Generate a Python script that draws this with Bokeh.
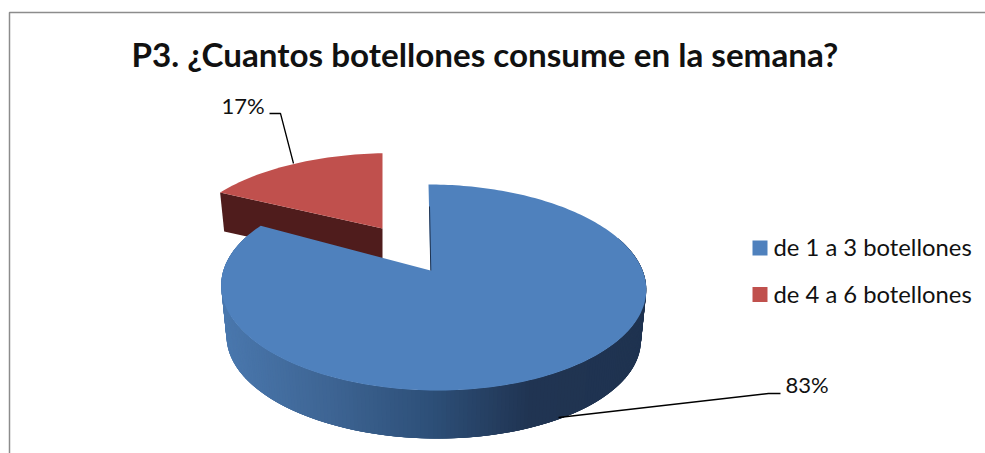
import math
from bokeh.plotting import figure
from bokeh.models import Range1d
from bokeh.embed import file_html
from bokeh.resources import INLINE
from bokeh.core.properties import value

# Survey results
categories = ["de 1 a 3 botellones", "de 4 a 6 botellones"]
shares = [83, 17]
labels = ["83%", "17%"]
title_text = "P3. ¿Cuantos botellones consume en la semana?"

colors = ["#4f81bd", "#c0504d"]
wall_red = "#4f1c1c"
FONT = "Lato"

# Perspective of the pie disc, in screen pixels
X0, Y0 = 432.5, 270.0
APEX_X = 430.0
RX, RY, K = 209.6, 100.2, 0.165
SKEW = -4.5
DEPTH_SCALE = 0.975
EXPLODE_V = 0.45
RED_APEX_X = 382.0
RED_STRETCH, RED_TILT = 1.02, 0.018


def project(u, v):
    d = 1 + K * v
    return X0 + RX * u / d + SKEW * v, Y0 - RY * v / d


def rim(deg):
    t = math.radians(deg)
    return project(math.sin(t), math.cos(t))


def red_point(u, v):
    # Exploded slice: same disc pushed backwards, sharing the vertical through its apex
    d = 1 + K * (v + EXPLODE_V)
    dx = RX * u / d * RED_STRETCH
    return RED_APEX_X + dx, Y0 - RY * (v + EXPLODE_V) / d - RED_TILT * dx


def lower(pt, apex, depth):
    return (apex[0] + (pt[0] - apex[0]) * DEPTH_SCALE,
            apex[1] + (pt[1] - apex[1]) * DEPTH_SCALE + depth)


p = figure(width=985, height=453, output_backend="svg", toolbar_location=None,
           x_range=Range1d(0, 985), y_range=Range1d(453, 0),
           min_border=0, outline_line_color=None, background_fill_color="white",
           border_fill_color="white")
p.xaxis.visible = False
p.yaxis.visible = False
p.grid.visible = False

# Chart frame: only the left and top edges fall inside the page
p.line([9, 9, 985], [453, 12, 12], line_color="#8c8c8c", line_width=1.5)

sweep = [shares[0] * 3.6, shares[1] * 3.6]

# Exploded minority slice: its wall first, then its top
red_apex = red_point(0, 0)
red_rim = []
for i in range(41):
    t = math.radians(sweep[0] + sweep[1] * i / 40)
    red_rim.append(red_point(math.sin(t), math.cos(t)))
red_low_left = lower(red_rim[0], red_apex, 38)
red_low_apex = lower(red_apex, red_apex, 38)
p.patch([red_rim[0][0], red_apex[0], red_low_apex[0], red_low_left[0]],
        [red_rim[0][1], red_apex[1], red_low_apex[1], red_low_left[1]],
        fill_color=wall_red, line_color=None)
p.patch([red_apex[0]] + [q[0] for q in red_rim],
        [red_apex[1]] + [q[1] for q in red_rim],
        fill_color=colors[1], line_color=None)

# Rounded side of the large slice, shaded left to right
shade_x = [225, 330, 433, 530, 640]
shade_rgb = [(74, 120, 174), (62, 101, 148), (45, 79, 120), (32, 52, 82), (31, 51, 80)]


def shade(x):
    if x <= shade_x[0]:
        c = shade_rgb[0]
    elif x >= shade_x[-1]:
        c = shade_rgb[-1]
    else:
        for i in range(len(shade_x) - 1):
            if shade_x[i] <= x <= shade_x[i + 1]:
                f = (x - shade_x[i]) / (shade_x[i + 1] - shade_x[i])
                c = [shade_rgb[i][j] + f * (shade_rgb[i + 1][j] - shade_rgb[i][j]) for j in range(3)]
                break
    return "#%02x%02x%02x" % tuple(int(round(a)) for a in c)


apex = (APEX_X, Y0)
side_xs, side_ys, side_cs = [], [], []
steps = 220
for i in range(steps):
    # Strips overlap the next one so no seams show between them
    a0 = 70 + 220 * i / steps
    a1 = 70 + 220 * (i + 4) / steps
    t0, t1 = rim(a0), rim(a1)
    b0, b1 = lower(t0, (X0, Y0), 51), lower(t1, (X0, Y0), 51)
    side_xs.append([t0[0], t1[0], b1[0], b0[0]])
    side_ys.append([t0[1], t1[1], b1[1], b0[1]])
    side_cs.append(shade(b0[0]))
p.patches(side_xs, side_ys, fill_color=side_cs, line_color=None)

# Top of the large slice
blue_rim = [rim(sweep[0] * i / 240) for i in range(241)]
p.patch([apex[0]] + [q[0] for q in blue_rim], [apex[1]] + [q[1] for q in blue_rim],
        fill_color=colors[0], line_color=None)
# Thin glimpse of the wall along the slice's straight edge
start_edge = rim(0)
p.line([start_edge[0] + 1, apex[0] + 0.3],
       [start_edge[1] + 22, apex[1]], line_color="#1f3350", line_width=1)

# Leader lines
p.line([558, 768, 780], [417, 393, 393], line_color="black", line_width=1.3)
p.line([293, 280, 269], [163, 113, 113], line_color="black", line_width=1.3)

common = dict(text_font=value(FONT), text_color="#111111", text_baseline="middle", text_align="left")

p.text([131], [53], text=[title_text], text_font_size="33.2px", text_font_style="bold", **common)
p.text([785], [384], text=[labels[0]], text_font_size="22px", **common)
p.text([221], [104.5], text=[labels[1]], text_font_size="22px", **common)

# Legend
legend_y = [247.5, 294]
p.rect([759.5, 759.5], legend_y, width=15, height=15, fill_color=colors, line_color=None)
p.text([773, 773], [y - 1 for y in legend_y], text=categories, text_font_size="23.8px", **common)

open("out.html", "w").write(file_html(p, INLINE))
